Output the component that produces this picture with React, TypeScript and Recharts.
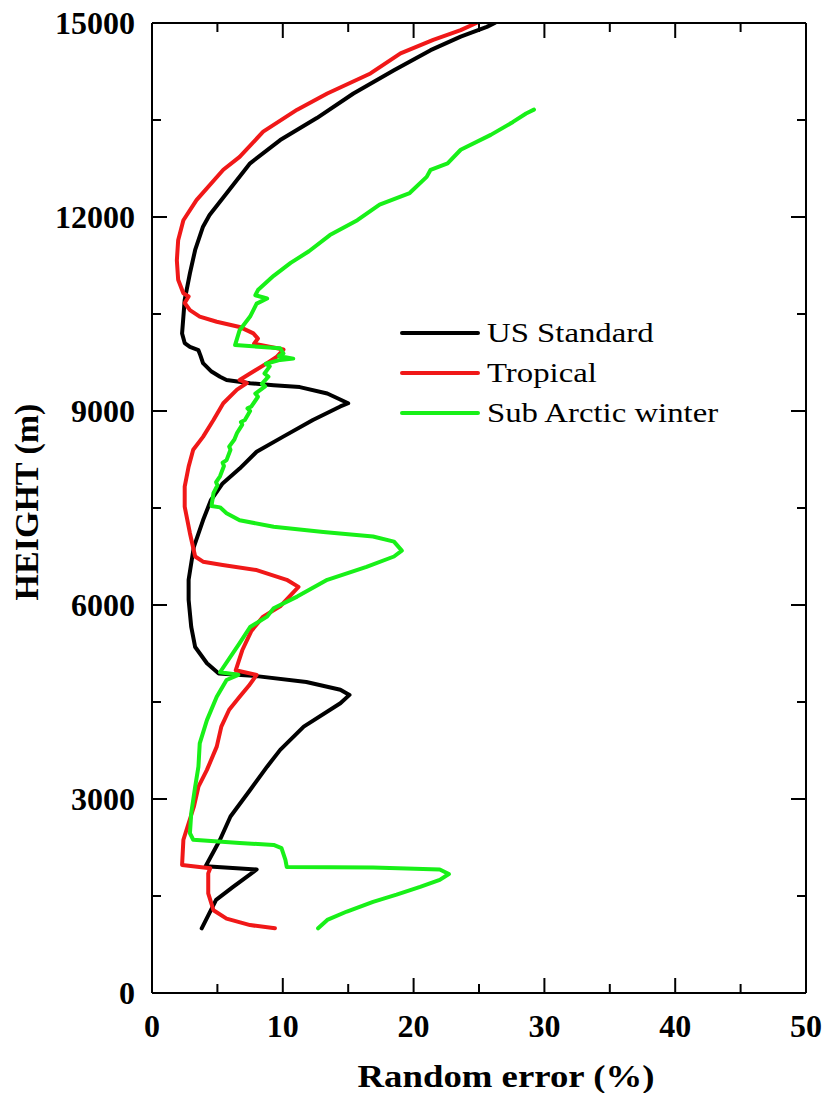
import { ComposedChart, Line, Scatter, XAxis, YAxis, Legend, Label } from "recharts";

const FONT = "Liberation Serif, Times New Roman, Times, serif";

// [random error %, height m], listed from the lowest level upward
const usStandard: [number, number][] = [
  [3.8, 1000], [4.9, 1440], [6.2, 1640], [8.0, 1910], [4.1, 1960], [5.2, 2370],
  [6.0, 2730], [7.5, 3140], [8.8, 3500], [9.8, 3760], [11.6, 4120], [14.4, 4480],
  [15.1, 4610], [14.4, 4690], [11.8, 4810], [8.0, 4900], [5.1, 4940], [4.2, 5100],
  [3.3, 5350], [3.0, 5660], [2.8, 6080], [2.8, 6390], [3.2, 6900], [3.9, 7310],
  [4.5, 7620], [5.4, 7880], [6.7, 8110], [8.0, 8370], [10.0, 8600], [12.3, 8860],
  [14.4, 9070], [15.0, 9120], [13.4, 9270], [11.3, 9370], [9.3, 9400], [7.5, 9430],
  [5.7, 9480], [5.2, 9530], [4.55, 9610], [3.9, 9740], [3.7, 9860], [3.55, 9940],
  [2.9, 9990], [2.5, 10050], [2.3, 10200], [2.4, 10460], [2.5, 10720], [2.9, 11130],
  [3.3, 11490], [3.9, 11850], [4.4, 12030], [5.45, 12300], [7.5, 12830], [9.8, 13190],
  [12.6, 13530], [15.4, 13910], [18.5, 14270], [21.3, 14580], [23.6, 14790],
  [25.6, 14940], [26.2, 15000],
];

const tropical: [number, number][] = [
  [9.4, 1000], [7.5, 1050], [5.7, 1150], [4.7, 1280], [4.3, 1540], [4.3, 1850],
  [4.45, 1930], [2.3, 1980], [2.4, 2370], [3.2, 2880], [3.55, 3190], [4.2, 3450],
  [4.95, 3810], [5.3, 4120], [5.9, 4380], [6.7, 4580], [7.4, 4750], [8.0, 4920],
  [6.4, 4990], [6.9, 5300], [7.6, 5600], [8.5, 5820], [9.8, 5980], [11.2, 6280],
  [10.3, 6390], [8.0, 6540], [5.4, 6620], [3.9, 6670], [3.3, 6750], [2.9, 7110],
  [2.5, 7520], [2.5, 7830], [2.8, 8140], [3.15, 8400], [3.9, 8600], [4.7, 8860],
  [5.45, 9120], [6.5, 9330], [7.25, 9430], [6.7, 9480], [7.5, 9580], [8.8, 9740],
  [9.55, 9840], [10.05, 9950], [7.8, 10040], [8.1, 10120], [7.75, 10200], [6.7, 10300],
  [4.95, 10380], [3.65, 10460], [2.9, 10560], [2.5, 10670], [2.8, 10770], [2.4, 10820],
  [2.0, 11030], [1.9, 11330], [2.0, 11640], [2.4, 11950], [3.4, 12260], [5.45, 12730],
  [6.7, 12930], [8.5, 13320], [11.1, 13660], [13.4, 13910], [16.7, 14220],
  [19.0, 14530], [21.5, 14740], [23.6, 14890], [24.8, 15000],
];

const subArcticWinter: [number, number][] = [
  [12.7, 1000], [13.4, 1130], [14.9, 1260], [16.9, 1410], [18.7, 1520], [20.5, 1640],
  [22.0, 1750], [22.7, 1840], [22.0, 1910], [16.9, 1940], [10.3, 1950], [10.2, 2060],
  [9.9, 2240], [9.3, 2290], [6.7, 2320], [3.15, 2370], [2.9, 2470], [3.0, 2780],
  [3.3, 3190], [3.55, 3500], [3.65, 3860], [4.2, 4220], [4.95, 4580], [5.7, 4840],
  [6.6, 4920], [5.2, 4960], [6.7, 5410], [7.5, 5660], [8.8, 5820], [9.3, 5950],
  [11.1, 6130], [13.4, 6390], [16.4, 6590], [18.5, 6750], [19.1, 6840], [18.5, 6980],
  [16.9, 7060], [13.1, 7130], [9.3, 7210], [6.7, 7310], [5.7, 7420], [5.2, 7510],
  [4.55, 7530], [4.7, 7730], [5.0, 7850], [4.9, 7900], [5.2, 7990], [5.5, 8150],
  [5.4, 8200], [5.7, 8240], [6.0, 8400], [5.9, 8450], [6.3, 8560], [6.5, 8660],
  [6.9, 8790], [6.8, 8830], [7.1, 8860], [7.5, 9000], [7.3, 9040], [7.6, 9070],
  [8.1, 9220], [7.9, 9270], [8.65, 9380], [8.4, 9420], [8.9, 9530], [8.6, 9580],
  [9.0, 9690], [8.7, 9730], [9.8, 9790], [10.8, 9810], [9.7, 9850], [10.05, 9890],
  [9.8, 9970], [6.35, 10020], [6.7, 10250], [7.5, 10460], [8.0, 10660], [8.8, 10740],
  [7.9, 10790], [8.1, 10870], [9.3, 11090], [10.6, 11290], [12.0, 11470], [13.6, 11720],
  [15.7, 11950], [17.4, 12190], [19.7, 12370], [21.0, 12620], [21.3, 12730],
  [22.6, 12830], [23.6, 13040], [25.9, 13270], [27.6, 13470], [28.6, 13600],
  [29.2, 13660],
];

const xTicks = [0, 10, 20, 30, 40, 50];
const xMinorTicks = [5, 15, 25, 35, 45];
const yTicks = [0, 3000, 6000, 9000, 12000, 15000];
const yMinorTicks = [1500, 4500, 7500, 10500, 13500];

const xAllTicks = [...xTicks, ...xMinorTicks].sort((a, b) => a - b);
const yAllTicks = [...yTicks, ...yMinorTicks].sort((a, b) => a - b);

const series = [
  { name: "US Standard", color: "#000000", points: usStandard },
  { name: "Tropical", color: "#f01818", points: tropical },
  { name: "Sub Arctic winter", color: "#18f018", points: subArcticWinter },
];

const toRows = (pts: [number, number][]) => pts.map(([err, h]) => ({ err, h }));

// anchor points of the tick marks along the left and top edges
const leftMarks = yAllTicks.map((h) => ({ err: 0, h, major: yTicks.includes(h) }));
const topMarks = xAllTicks.map((err) => ({ err, h: 15000, major: xTicks.includes(err) }));

const frame = { stroke: "#000", strokeWidth: 2 };
const tickLen = (major: boolean) => (major ? 15 : 9);

type Side = "bottom" | "left" | "right";

// inward tick mark (long for major, short for minor), with a label on bottom/left majors
const edgeTick = (side: Side, majors: number[]) => (props: any) => {
  const x = Number(props.x);
  const y = Number(props.y);
  const value = Number(props.payload?.value);
  const major = majors.includes(value);
  const len = tickLen(major);
  let mark = null;
  if (side === "bottom") mark = <path d={`M${x},${y}V${y - len}`} stroke="#000" strokeWidth={2} />;
  if (side === "right") mark = <path d={`M${x},${y}H${x - len}`} stroke="#000" strokeWidth={2} />;
  let label = null;
  if (major && side === "bottom") {
    label = (
      <text x={x} y={y + 44} textAnchor="middle" fontFamily={FONT} fontSize={32} fontWeight="bold" fill="#000">
        {value}
      </text>
    );
  } else if (major && side === "left") {
    label = (
      <text x={x - 17} y={y + 11} textAnchor="end" fontFamily={FONT} fontSize={32} fontWeight="bold" fill="#000">
        {value}
      </text>
    );
  }
  return (
    <g>
      {mark}
      {label}
    </g>
  );
};

// tick marks drawn as scatter shapes: rightward from the left edge, downward from the top edge
const markShape = (dir: "right" | "down") => (props: any) => {
  const cx = Number(props.cx);
  const cy = Number(props.cy);
  const len = tickLen(Boolean(props.payload?.major));
  const d = dir === "right" ? `M${cx},${cy}H${cx + len}` : `M${cx},${cy}V${cy + len}`;
  return <path d={d} stroke="#000" strokeWidth={2} fill="none" />;
};

const XTitle = (props: any) => {
  const vb = props.viewBox || { x: 152, y: 993, width: 654, height: 100 };
  return (
    <text
      x={vb.x + vb.width / 2 + 27}
      y={vb.y + 94}
      textAnchor="middle"
      fontFamily={FONT}
      fontSize={31}
      fontWeight="bold"
      textLength={297}
      lengthAdjust="spacingAndGlyphs"
      fill="#000"
    >
      Random error (%)
    </text>
  );
};

const YTitle = (props: any) => {
  const vb = props.viewBox || { x: 0, y: 23, width: 152, height: 970 };
  const x = vb.x + 38;
  const y = vb.y + vb.height / 2 - 6;
  return (
    <text
      x={x}
      y={y}
      transform={`rotate(-90, ${x}, ${y})`}
      textAnchor="middle"
      fontFamily={FONT}
      fontSize={34}
      fontWeight="bold"
      fill="#000"
    >
      HEIGHT (m)
    </text>
  );
};

const renderLegend = () => (
  <div style={{ fontFamily: FONT, fontSize: 28, color: "#000" }}>
    {series.map((s) => (
      <div key={s.name} style={{ display: "flex", alignItems: "center", height: 40 }}>
        <span
          style={{ display: "inline-block", width: 80, height: 4, background: s.color, borderRadius: 2 }}
        />
        <span
          style={{
            marginLeft: 7,
            whiteSpace: "nowrap",
            transform: "scaleX(1.17)",
            transformOrigin: "left center",
          }}
        >
          {s.name}
        </span>
      </div>
    ))}
  </div>
);

export default function App() {
  return (
    <div style={{ position: "absolute", left: 0, top: 0, background: "#fff", fontFamily: FONT }}>
      <ComposedChart width={824} height={1093} margin={{ top: 22, right: 17, bottom: 0, left: 0 }}>
        <XAxis
          xAxisId="main"
          type="number"
          dataKey="err"
          domain={[0, 50]}
          ticks={xAllTicks}
          interval={0}
          allowDataOverflow
          height={100}
          tickSize={0}
          tickMargin={0}
          tickLine={false}
          tick={edgeTick("bottom", xTicks)}
          axisLine={frame}
        >
          <Label content={XTitle} />
        </XAxis>
        <YAxis
          yAxisId="main"
          type="number"
          dataKey="h"
          domain={[0, 15000]}
          ticks={yAllTicks}
          interval={0}
          allowDataOverflow
          width={152}
          tickSize={0}
          tickMargin={0}
          tickLine={false}
          tick={edgeTick("left", yTicks)}
          axisLine={frame}
        >
          <Label content={YTitle} />
        </YAxis>

        {/* top and right edges of the frame */}
        <XAxis
          xAxisId="top"
          type="number"
          orientation="top"
          height={1}
          domain={[0, 50]}
          ticks={xAllTicks}
          interval={0}
          allowDataOverflow
          tickLine={false}
          tick={false}
          axisLine={frame}
        />
        <YAxis
          yAxisId="right"
          type="number"
          orientation="right"
          width={1}
          domain={[0, 15000]}
          ticks={yAllTicks}
          interval={0}
          allowDataOverflow
          tickSize={0}
          tickMargin={0}
          tickLine={false}
          tick={edgeTick("right", yTicks)}
          axisLine={frame}
        />

        <Legend
          layout="vertical"
          align="center"
          verticalAlign="middle"
          content={renderLegend}
          wrapperStyle={{ left: 400, top: 313, width: "auto" }}
        />

        {series.map((s) => (
          <Line
            key={s.name}
            xAxisId="main"
            yAxisId="main"
            name={s.name}
            data={toRows(s.points)}
            dataKey="h"
            type="linear"
            stroke={s.color}
            strokeWidth={4}
            strokeLinejoin="round"
            strokeLinecap="round"
            dot={false}
            activeDot={false}
            isAnimationActive={false}
          />
        ))}

        <Scatter
          xAxisId="main"
          yAxisId="main"
          data={leftMarks}
          dataKey="h"
          shape={markShape("right")}
          legendType="none"
          isAnimationActive={false}
        />
        <Scatter
          xAxisId="main"
          yAxisId="main"
          data={topMarks}
          dataKey="h"
          shape={markShape("down")}
          legendType="none"
          isAnimationActive={false}
        />
      </ComposedChart>
    </div>
  );
}
